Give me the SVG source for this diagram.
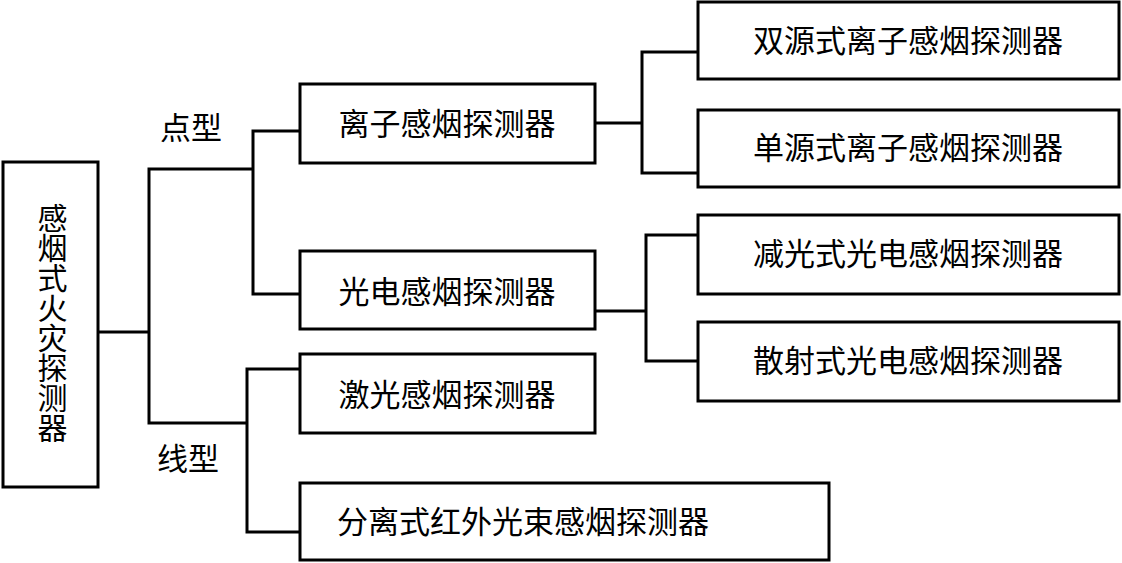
<svg xmlns="http://www.w3.org/2000/svg" width="1122" height="563" viewBox="0 0 1122 563">
<style>
rect{fill:#fff;stroke:#000;stroke-width:3}
#connectors path{fill:none;stroke:#000;stroke-width:3;stroke-linecap:square}
text{font-family:"Liberation Serif","Noto Sans CJK SC",serif;font-size:31px;fill:#000;dominant-baseline:central}
.c{text-anchor:middle}
.v{writing-mode:vertical-rl;font-size:30px;text-anchor:start}
</style>
<rect x="0" y="0" width="1122" height="563" style="stroke:none"/>
<g id="connectors">
<path d="M98 332H149M149 169V423M149 169H253M253 131V294M253 131H300M253 294H300M149 423H247M247 369V532M247 369H300M247 532H300"/>
<path d="M595 123H642M642 52V173M642 52H698M642 173H698M595 311H646M646 235V361M646 235H698M646 361H698"/>
</g>
<g id="root">
<rect x="3" y="162" width="95" height="325"/>
<text class="v" x="50" y="203">感烟式火灾探测器</text>
</g>
<g id="label-dian"><text x="160" y="128">点型</text></g>
<g id="label-xian"><text x="157" y="459">线型</text></g>
<g id="ion">
<rect x="300" y="84" width="295" height="79"/>
<text class="c" x="447" y="124">离子感烟探测器</text>
</g>
<g id="photo">
<rect x="300" y="251" width="295" height="78"/>
<text class="c" x="447" y="292">光电感烟探测器</text>
</g>
<g id="laser">
<rect x="300" y="354" width="295" height="79"/>
<text class="c" x="447" y="395">激光感烟探测器</text>
</g>
<g id="beam">
<rect x="300" y="483" width="529" height="77"/>
<text x="337" y="522">分离式红外光束感烟探测器</text>
</g>
<g id="dual">
<rect x="698" y="2" width="421" height="77"/>
<text class="c" x="908" y="41">双源式离子感烟探测器</text>
</g>
<g id="single">
<rect x="698" y="110" width="421" height="77"/>
<text class="c" x="908" y="148">单源式离子感烟探测器</text>
</g>
<g id="obscure">
<rect x="698" y="215" width="421" height="79"/>
<text class="c" x="908" y="254">减光式光电感烟探测器</text>
</g>
<g id="scatter">
<rect x="698" y="322" width="421" height="79"/>
<text class="c" x="908" y="361">散射式光电感烟探测器</text>
</g>
</svg>
